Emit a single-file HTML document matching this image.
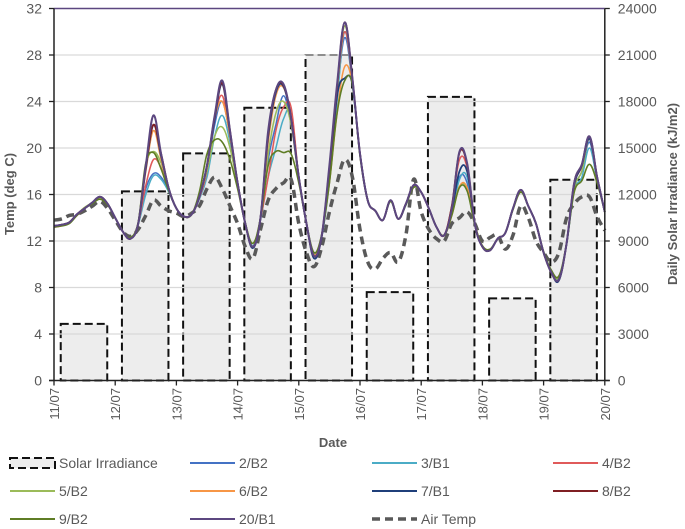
<!DOCTYPE html>
<html><head><meta charset="utf-8"><style>
html,body{margin:0;padding:0;background:#fff;}
svg{display:block;font-family:"Liberation Sans",sans-serif;}
</style></head><body>
<svg id="chart" width="685" height="529" viewBox="0 0 685 529">
<g id="grid"></g>
<g id="bars"></g>
<g id="grid2"></g>
<g id="lines"></g>
<g id="axes"></g>
<text x="14" y="194" transform="rotate(-90 14 194)" text-anchor="middle" font-size="13" font-weight="bold" fill="#595959">Temp (deg C)</text>
<text x="677" y="194" transform="rotate(-90 677 194)" text-anchor="middle" font-size="13" font-weight="bold" fill="#595959">Daily Solar Irradiance (kJ/m2)</text>
<text x="333" y="447" text-anchor="middle" font-size="13" font-weight="bold" fill="#595959">Date</text>
<g id="legend"></g>
</svg>
<script>
const dates = ["11/07","12/07","13/07","14/07","15/07","16/07","17/07","18/07","19/07","20/07"];
const solar = [3650,12200,14650,17600,21000,5700,18300,5300,12950];
const leftTicks = [0,4,8,12,16,20,24,28,32];
const rightTicks = [0,3000,6000,9000,12000,15000,18000,21000,24000];
const hours = [0,3,6,9,12,15,18,21,24,27,30,33,36,39,42,45,48,51,54,57,60,63,66,69,72,75,78,81,84,87,90,93,96,99,102,105,108,111,114,117,120,123,126,129,132,135,138,141,144,147,150,153,156,159,162,165,168,171,174,177,180,183,186,189,192,195,198,201,204,207,210,213,216];
const s2B2 = [13.3,13.4,13.6,14.3,14.8,15.3,15.8,15.2,14.0,12.8,12.2,13.5,16.5,17.8,17.5,16.3,14.8,14.1,14.3,15.8,18.0,22.0,24.0,21.0,17.0,13.5,11.5,14.0,19.0,22.0,24.5,22.0,17.5,13.5,10.9,12.5,17.5,24.5,29.5,25.5,19.5,15.5,14.6,13.8,15.5,13.9,15.2,16.8,16.2,14.8,13.2,12.5,14.5,17.5,17.0,13.5,11.5,11.2,12.2,12.7,14.8,16.4,15.0,13.5,11.0,9.3,8.7,11.8,16.5,18.0,20.5,17.3,14.5];
const s3B1 = [13.3,13.4,13.6,14.3,14.8,15.3,15.8,15.2,14.0,12.8,12.2,13.4,16.0,17.6,17.3,16.2,14.8,14.1,14.3,15.6,17.5,21.0,22.8,20.5,16.8,13.5,11.6,13.8,17.5,20.0,22.5,23.0,17.5,13.5,10.9,12.4,17.0,24.0,30.0,25.5,19.5,15.5,14.6,13.8,15.4,13.9,15.1,16.7,16.2,14.8,13.2,12.5,14.3,17.3,17.5,13.5,11.5,11.2,12.2,12.7,14.8,16.3,15.0,13.5,11.0,9.3,8.8,11.7,16.3,17.5,20.0,17.2,14.5];
const s4B2 = [13.2,13.3,13.6,14.2,14.8,15.3,15.7,15.2,14.0,12.8,12.2,13.5,16.8,19.0,18.3,16.4,14.8,14.1,14.3,15.7,18.0,22.5,24.5,21.0,17.0,13.5,11.5,13.9,17.5,21.5,23.5,23.5,17.5,13.5,10.8,12.5,18.0,25.0,30.0,25.8,19.5,15.5,14.6,13.8,15.5,13.9,15.2,16.8,16.2,14.8,13.2,12.5,15.0,19.0,18.3,13.5,11.5,11.2,12.2,12.7,14.8,16.4,15.0,13.5,11.0,9.3,8.7,11.8,16.8,18.4,20.8,17.4,14.5];
const s5B2 = [13.2,13.4,13.6,14.3,14.9,15.3,15.7,15.2,14.0,12.8,12.3,13.6,18.5,19.7,18.7,16.5,14.8,14.1,14.3,15.9,18.0,21.0,21.8,20.0,16.8,13.6,11.8,14.0,19.5,23.0,24.0,22.0,17.3,13.5,11.0,12.6,18.0,25.0,30.5,25.8,19.4,15.5,14.6,13.8,15.4,13.9,15.2,16.7,16.2,14.8,13.2,12.5,14.3,16.7,16.5,13.4,11.5,11.3,12.2,12.7,14.7,16.3,15.0,13.5,11.0,9.4,8.9,11.8,16.5,18.0,20.8,17.4,14.5];
const s6B2 = [13.3,13.4,13.6,14.3,14.8,15.3,15.8,15.2,14.0,12.8,12.2,13.5,18.0,21.5,19.0,16.5,14.8,14.1,14.3,15.8,18.3,22.5,24.0,21.0,17.0,13.5,11.5,14.0,20.5,24.5,25.2,22.5,17.5,13.5,10.8,12.5,17.0,23.0,27.0,25.5,19.5,15.5,14.6,13.8,15.5,13.9,15.2,16.8,16.2,14.8,13.2,12.5,14.2,16.7,16.6,13.5,11.5,11.2,12.2,12.7,14.8,16.4,15.0,13.5,11.0,9.3,8.7,11.8,16.8,18.5,20.8,17.4,14.5];
const s7B1 = [13.3,13.4,13.6,14.3,14.8,15.3,15.8,15.2,14.0,12.8,12.2,13.5,18.2,22.0,19.3,16.5,14.8,14.1,14.3,15.8,18.5,22.5,25.5,21.3,17.0,13.5,11.4,14.0,21.0,24.8,25.3,22.5,17.5,13.5,10.5,12.4,17.5,24.5,26.0,25.5,19.5,15.5,14.6,13.8,15.5,13.9,15.2,16.8,16.2,14.8,13.2,12.5,14.6,18.0,18.0,13.5,11.5,11.2,12.2,12.7,14.8,16.4,15.0,13.5,11.0,9.3,8.6,11.8,16.8,18.5,20.8,17.5,14.5];
const s8B2 = [13.3,13.4,13.6,14.3,14.8,15.3,15.8,15.2,14.0,12.8,12.2,13.5,18.4,22.0,19.5,16.5,14.8,14.1,14.3,15.8,18.5,22.7,25.6,21.5,17.0,13.5,11.5,14.0,21.3,25.0,25.4,22.6,17.5,13.5,10.7,12.5,18.3,25.3,30.8,26.0,19.5,15.5,14.6,13.8,15.5,13.9,15.2,16.8,16.2,14.8,13.2,12.5,15.0,19.6,18.6,13.5,11.5,11.2,12.2,12.7,14.8,16.4,15.0,13.5,11.0,9.3,8.7,11.8,17.0,18.6,21.0,17.5,14.5];
const s9B2 = [13.2,13.3,13.5,14.2,14.8,15.2,15.6,15.1,14.0,12.8,12.3,13.6,18.7,19.6,18.2,16.3,14.8,14.1,14.3,16.2,19.5,20.7,20.5,19.0,16.5,13.5,11.8,14.0,18.5,19.7,19.6,19.5,17.0,13.5,11.0,12.6,17.0,23.0,25.8,25.5,19.3,15.5,14.6,13.8,15.4,13.9,15.1,16.6,16.2,14.8,13.2,12.5,14.2,16.6,16.3,13.4,11.6,11.3,12.2,12.7,14.7,16.2,15.0,13.5,11.1,9.5,9.0,11.8,16.2,17.2,18.6,17.0,14.5];
const s20B1 = [13.3,13.4,13.6,14.3,14.8,15.3,15.8,15.2,14.0,12.8,12.2,13.5,18.5,22.8,19.5,16.5,14.8,14.1,14.3,15.8,18.5,22.8,25.8,21.5,17.0,13.5,11.5,14.0,21.5,25.0,25.5,22.5,17.5,13.5,10.7,12.5,18.5,25.5,30.8,26.0,19.5,15.5,14.6,13.8,15.5,13.9,15.2,16.8,16.2,14.8,13.2,12.5,14.8,19.7,18.7,13.5,11.5,11.2,12.2,12.7,14.8,16.4,15.0,13.5,11.0,9.3,8.7,11.8,17.0,18.6,21.0,17.5,14.5];
const airTemp = [13.8,13.9,14.2,14.3,14.6,15.0,15.4,14.8,13.8,12.8,12.4,13.0,14.2,15.5,15.0,14.6,14.4,14.1,14.4,15.0,16.5,17.5,16.5,15.0,13.5,11.5,10.5,13.0,15.5,16.5,17.0,17.3,13.5,11.0,9.8,11.5,14.5,17.0,19.0,17.5,13.0,10.2,9.6,10.5,11.0,10.2,12.5,17.3,14.5,13.0,12.2,12.0,13.5,14.0,14.5,13.5,12.0,12.3,12.5,11.3,12.5,15.0,14.0,12.0,11.0,10.2,11.0,14.0,15.2,15.8,15.8,14.1,12.9];

const NS="http://www.w3.org/2000/svg";
const X0=54, DAY=61.2, Y0=380.5, PT=11.625;
function xH(h){return X0+h*DAY/24;}
function xD(d){return X0+d*DAY;}
function yT(t){return Y0-t*PT;}
function yS(s){return yT(s/750);}
function mk(tag,attrs,parent){const e=document.createElementNS(NS,tag);for(const k in attrs)e.setAttribute(k,attrs[k]);parent.appendChild(e);return e;}

const grid=document.getElementById('grid2');
leftTicks.forEach(t=>{ if(t===0||t===32) return;
  const l=mk('line',{x1:X0,x2:xD(9),y1:yT(t),y2:yT(t),stroke:'#d9d9d9','stroke-width':1.3},grid);
  
  
});

const bars=document.getElementById('bars');
solar.forEach((v,i)=>{
  const x1=xD(i+0.11), x2=xD(i+0.87);
  const r=mk('rect',{x:x1,y:yS(v),width:x2-x1,height:Y0-yS(v),fill:'#ededed',stroke:'#111','stroke-width':2,'stroke-dasharray':'8,4'},bars);
  
  
});

function pathFor(vals){
  const pts=hours.map((h,i)=>[xH(h),yT(vals[i])]);
  let d='M'+pts[0][0].toFixed(1)+','+pts[0][1].toFixed(1);
  for(let i=0;i<pts.length-1;i++){
    const p0=pts[Math.max(0,i-1)],p1=pts[i],p2=pts[i+1],p3=pts[Math.min(pts.length-1,i+2)];
    const t=0.18;
    const c1=[p1[0]+(p2[0]-p0[0])*t,p1[1]+(p2[1]-p0[1])*t];
    const c2=[p2[0]-(p3[0]-p1[0])*t,p2[1]-(p3[1]-p1[1])*t];
    d+='C'+c1[0].toFixed(1)+','+c1[1].toFixed(1)+' '+c2[0].toFixed(1)+','+c2[1].toFixed(1)+' '+p2[0].toFixed(1)+','+p2[1].toFixed(1);
  }
  return d;
}
const series=[
 ['2/B2',s2B2,'#4472c4',1.5],['3/B1',s3B1,'#4bacc6',1.5],['4/B2',s4B2,'#e05a5a',1.5],
 ['5/B2',s5B2,'#9bbb59',1.5],['6/B2',s6B2,'#f79646',1.5],['7/B1',s7B1,'#1f3f7a',1.8],
 ['8/B2',s8B2,'#7f1f23',1.8],['9/B2',s9B2,'#5f7d25',1.6],['20/B1',s20B1,'#5c4780',2]
];
const lines=document.getElementById('lines');
const air=mk('path',{d:pathFor(airTemp),fill:'none',stroke:'#595959','stroke-width':3.5,'stroke-dasharray':'8,5'},lines);


series.forEach(s=>{
  const p=mk('path',{d:pathFor(s[1]),fill:'none',stroke:s[2],'stroke-width':s[3],'stroke-linejoin':'round'},lines);
  
  
});

const ax=document.getElementById('axes');
mk('line',{x1:X0,x2:xD(9),y1:yT(32),y2:yT(32),stroke:'#5c4780','stroke-width':1.5},ax);
mk('line',{x1:X0,x2:X0,y1:yT(32),y2:Y0,stroke:'#222','stroke-width':1.5},ax);
mk('line',{x1:xD(9),x2:xD(9),y1:yT(32),y2:Y0,stroke:'#222','stroke-width':1.5},ax);
mk('line',{x1:X0-5,x2:xD(9)+5,y1:Y0,y2:Y0,stroke:'#222','stroke-width':1.5},ax);
leftTicks.forEach(t=>{
  mk('line',{x1:X0-5,x2:X0,y1:yT(t),y2:yT(t),stroke:'#222','stroke-width':1.3},ax);
  const tx=mk('text',{x:X0-12,y:yT(t)+5,'text-anchor':'end','font-size':14,fill:'#595959'},ax);
  tx.textContent=t;
  
  
});
rightTicks.forEach(t=>{
  mk('line',{x1:xD(9),x2:xD(9)+5,y1:yS(t),y2:yS(t),stroke:'#222','stroke-width':1.3},ax);
  const tx=mk('text',{x:xD(9)+13,y:yS(t)+5,'text-anchor':'start','font-size':14,fill:'#595959'},ax);
  tx.textContent=t;
  
  
});
dates.forEach((d,i)=>{
  const x=xD(i);
  mk('line',{x1:x,x2:x,y1:Y0,y2:Y0+5,stroke:'#222','stroke-width':1.3},ax);
  const tx=mk('text',{x:x+5,y:388,'text-anchor':'end','font-size':13,fill:'#595959',transform:'rotate(-90 '+(x+5)+' 388)'},ax);
  tx.textContent=d;
  
  
});

const lg=document.getElementById('legend');
const cols=[10,190,372,553], rows=[463,491,519];
const entries=[['Solar Irradiance','bar'],['2/B2','#4472c4'],['3/B1','#4bacc6'],['4/B2','#e05a5a'],
 ['5/B2','#9bbb59'],['6/B2','#f79646'],['7/B1','#1f3f7a'],['8/B2','#7f1f23'],
 ['9/B2','#5f7d25'],['20/B1','#5c4780'],['Air Temp','air']];
entries.forEach((e,i)=>{
  const cx=cols[i%4], cy=rows[Math.floor(i/4)];
  const g=mk('g',{},lg);
  
  
  if(e[1]==='bar'){
    mk('rect',{x:cx,y:cy-5,width:45,height:10,fill:'#ededed',stroke:'#111','stroke-width':2,'stroke-dasharray':'8,4'},g);
  } else if(e[1]==='air'){
    mk('line',{x1:cx,x2:cx+45,y1:cy,y2:cy,stroke:'#595959','stroke-width':3.5,'stroke-dasharray':'8,5'},g);
  } else {
    mk('line',{x1:cx,x2:cx+45,y1:cy,y2:cy,stroke:e[1],'stroke-width':2},g);
  }
  const t=mk('text',{x:cx+49,y:cy+5,'font-size':14,fill:'#595959'},g);
  t.textContent=e[0];
});
</script>
</body></html>
